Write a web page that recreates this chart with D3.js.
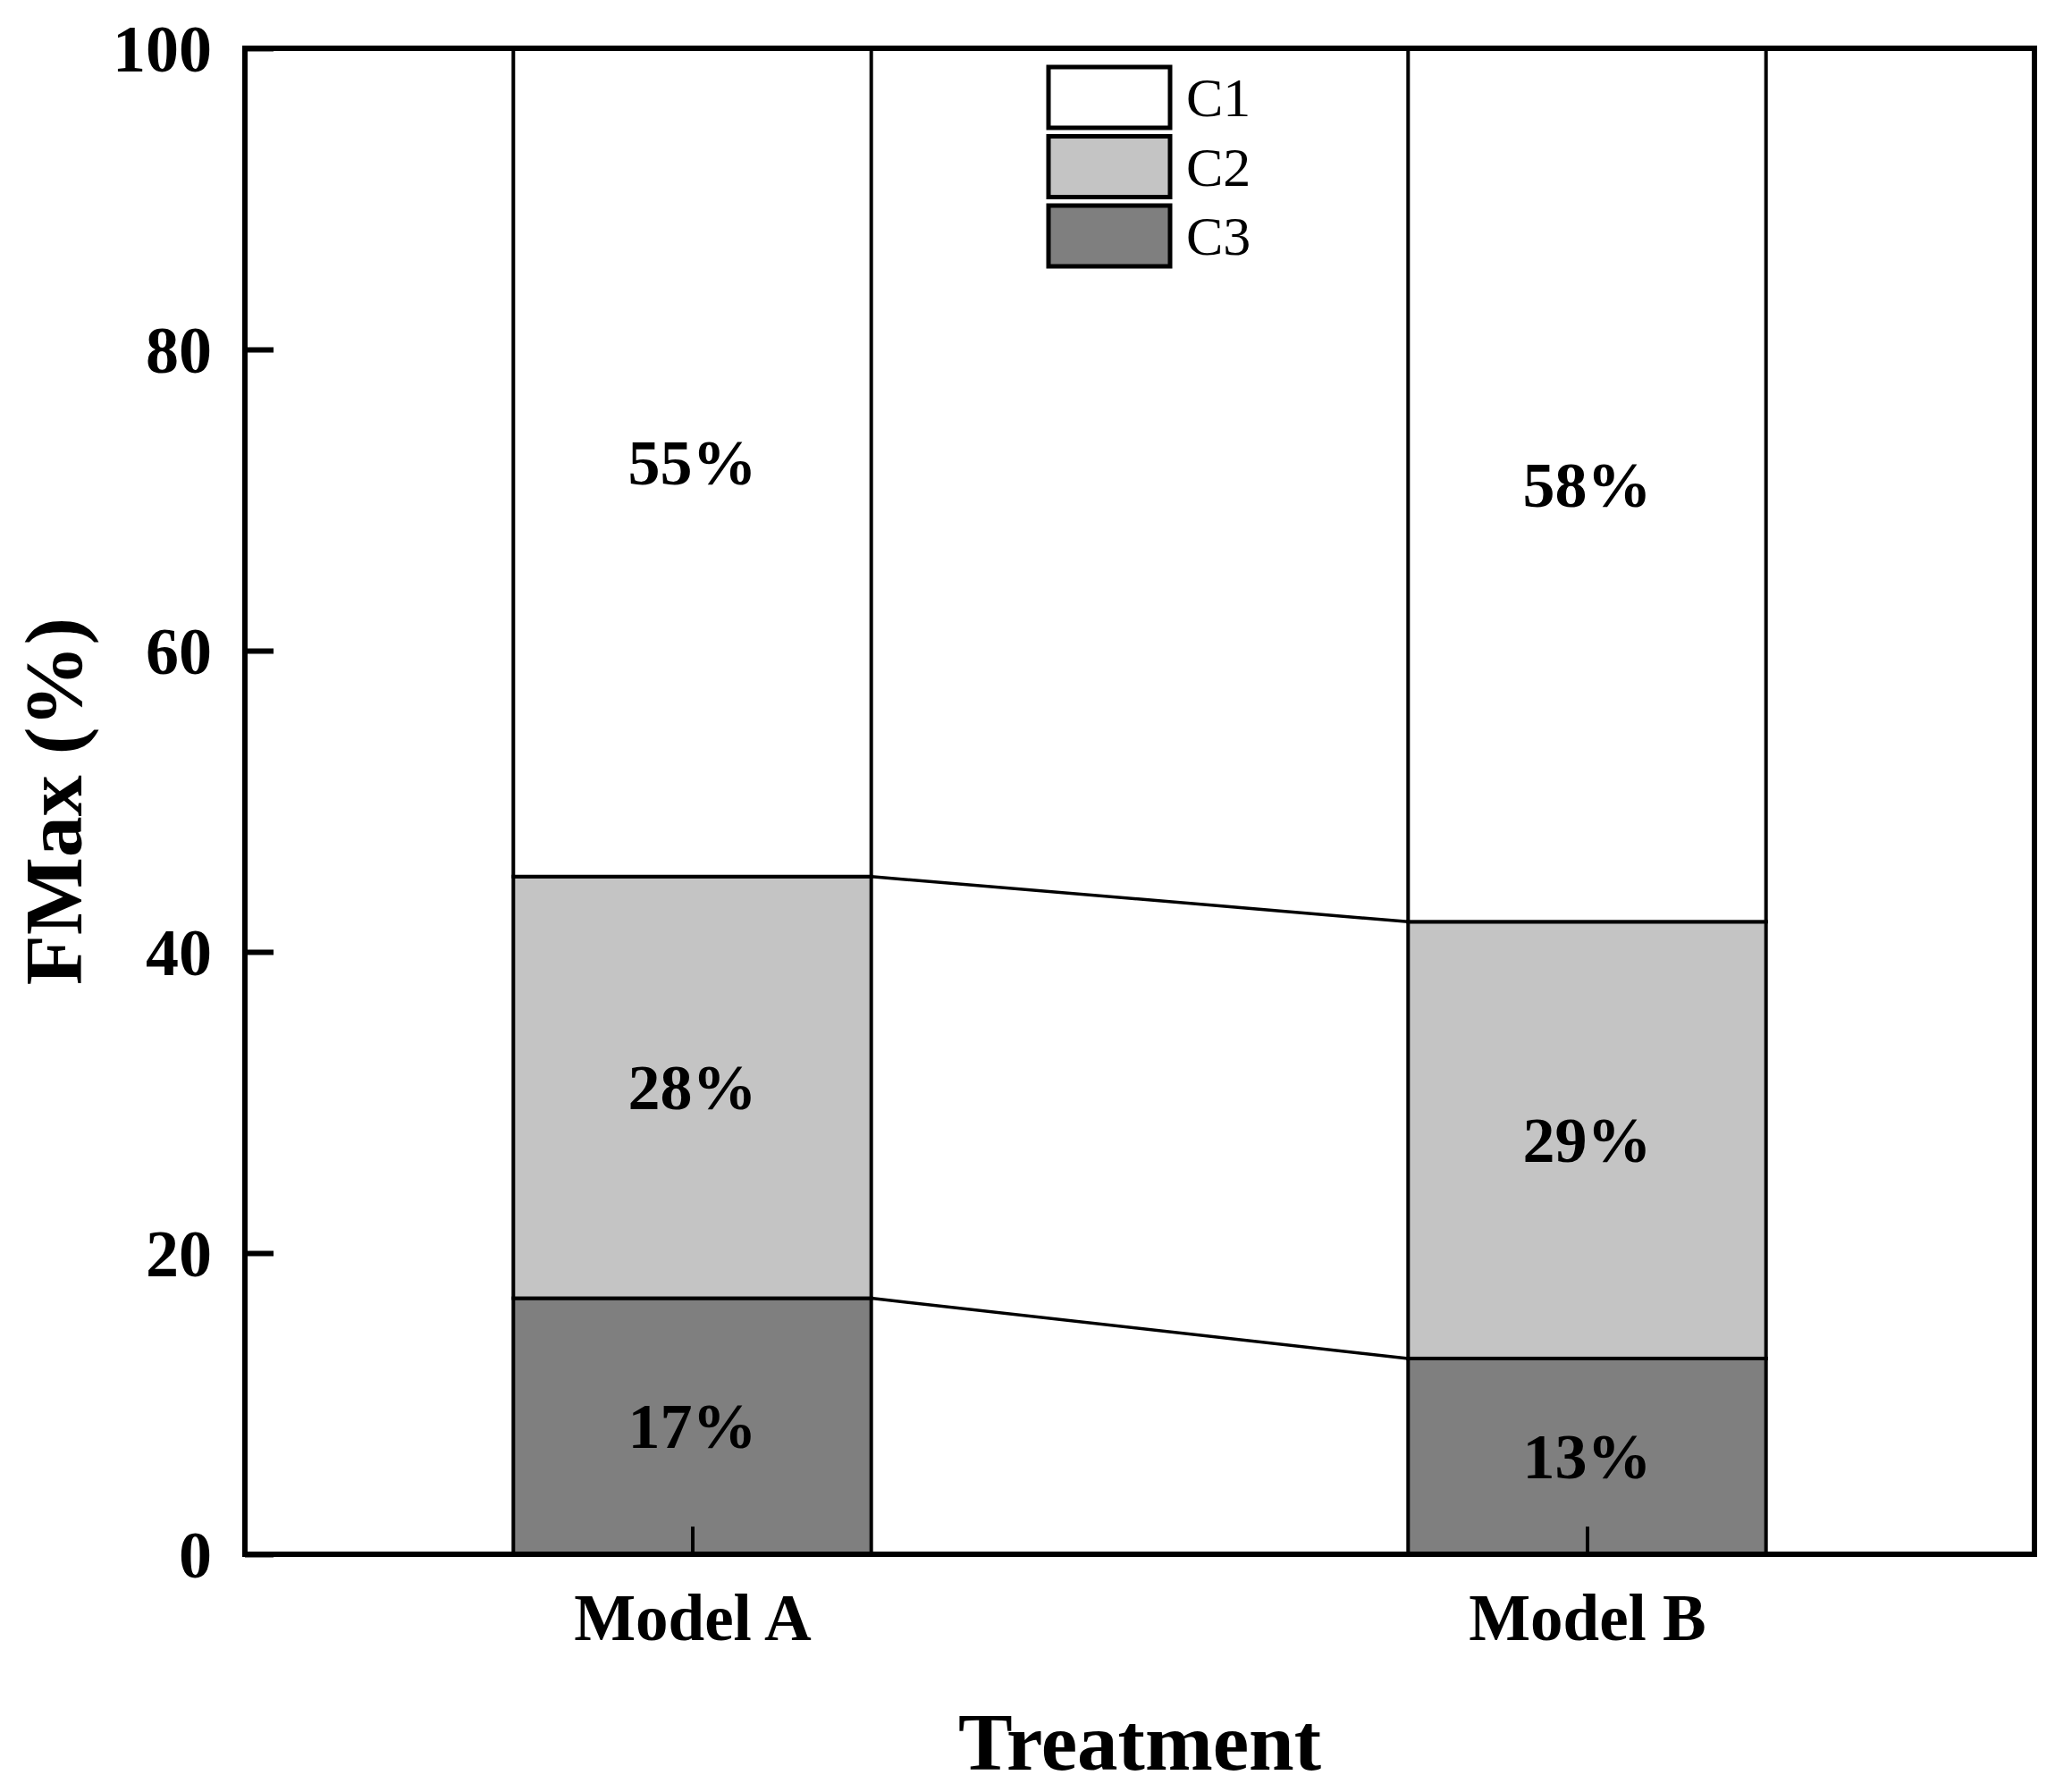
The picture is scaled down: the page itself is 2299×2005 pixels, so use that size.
<!DOCTYPE html>
<html>
<head>
<meta charset="utf-8">
<script src="https://cdn.jsdelivr.net/npm/d3@7"></script>
<style>
  html, body { margin: 0; padding: 0; background: #ffffff; }
  svg { display: block; }
  text { font-family: "Liberation Serif", "Times New Roman", serif; }
</style>
</head>
<body>
<svg id="chart" width="2299" height="2005"></svg>
<script>
// ---- data ----
const categories = ["Model A", "Model B"];
const series = ["C3", "C2", "C1"];           // stacking order, bottom to top
const c3Values = [17, 13];
const c2Values = [28, 29];
const c1Values = [55, 58];
const labels = { C1: ["55%", "58%"], C2: ["28%", "29%"], C3: ["17%", "13%"] };
const yTicks = [0, 20, 40, 60, 80, 100];
const legendOrder = ["C1", "C2", "C3"];
const colors = { C1: "#ffffff", C2: "#c4c4c4", C3: "#7f7f7f" };

const rows = categories.map((c, i) => ({ cat: c, C3: c3Values[i], C2: c2Values[i], C1: c1Values[i] }));

// ---- layout ----
const W = 2299, H = 2005;
const m = { left: 274, right: 23, top: 54, bottom: 266 };
const x0 = m.left, x1 = W - m.right, y0 = H - m.bottom, y1 = m.top;

const svg = d3.select("#chart");
svg.append("rect").attr("width", W).attr("height", H).attr("fill", "#fff");

const x = d3.scalePoint().domain(categories).range([x0, x1]).padding(0.5);
const y = d3.scaleLinear().domain([0, 100]).range([y0, y1]);
const barW = x.step() * 0.4;

const stack = d3.stack().keys(series);
const stacked = stack(rows);

const g = svg.append("g");

// bars
stacked.forEach(layer => {
  g.selectAll(null).data(layer).enter().append("rect")
    .attr("x", d => x(d.data.cat) - barW / 2)
    .attr("y", d => y(d[1]))
    .attr("width", barW)
    .attr("height", d => y(d[0]) - y(d[1]))
    .attr("fill", colors[layer.key])
    .attr("stroke", "#000")
    .attr("stroke-width", 4);
});

// connecting lines between stacks (at the tops of C3 and C2)
["C3", "C2"].forEach(key => {
  const layer = stacked.find(l => l.key === key);
  g.append("line")
    .attr("x1", x(categories[0]) + barW / 2)
    .attr("y1", y(layer[0][1]))
    .attr("x2", x(categories[1]) - barW / 2)
    .attr("y2", y(layer[1][1]))
    .attr("stroke", "#000")
    .attr("stroke-width", 3.5);
});

// value labels
stacked.forEach(layer => {
  g.selectAll(null).data(layer).enter().append("text")
    .attr("x", d => x(d.data.cat))
    .attr("y", d => y((d[0] + d[1]) / 2))
    .attr("dy", "0.34em")
    .attr("text-anchor", "middle")
    .attr("font-size", 72)
    .attr("font-weight", "bold")
    .attr("fill", "#000")
    .text((d, i) => labels[layer.key][i]);
});

// axes (ticks inward)
const yAxis = d3.axisLeft(y).tickValues(yTicks).tickSizeInner(-32).tickSizeOuter(0).tickPadding(0);
const ya = svg.append("g").attr("transform", `translate(${x0},0)`).call(yAxis);
ya.select(".domain").remove();
ya.selectAll(".tick line").attr("stroke", "#000").attr("stroke-width", 6);
ya.selectAll(".tick text")
  .attr("x", -37)
  .attr("dy", "0.34em")
  .attr("font-size", 74)
  .attr("font-weight", "bold")
  .attr("font-family", "Liberation Serif, Times New Roman, serif")
  .attr("fill", "#000");

const xAxis = d3.axisBottom(x).tickSizeInner(-31).tickSizeOuter(0);
const xa = svg.append("g").attr("transform", `translate(0,${y0})`).call(xAxis);
xa.select(".domain").remove();
xa.selectAll(".tick line").attr("stroke", "#000").attr("stroke-width", 4);
xa.selectAll(".tick text")
  .attr("y", 96)
  .attr("dy", 0)
  .attr("font-size", 73)
  .attr("font-weight", "bold")
  .attr("font-family", "Liberation Serif, Times New Roman, serif")
  .attr("fill", "#000");

// frame
svg.append("rect")
  .attr("x", x0).attr("y", y1)
  .attr("width", x1 - x0).attr("height", y0 - y1)
  .attr("fill", "none").attr("stroke", "#000").attr("stroke-width", 6);

// axis titles
svg.append("text")
  .attr("x", (x0 + x1) / 2).attr("y", 1980)
  .attr("text-anchor", "middle")
  .attr("font-size", 91).attr("font-weight", "bold")
  .text("Treatment");

svg.append("text")
  .attr("transform", `translate(91,${(y0 + y1) / 2}) rotate(-90)`)
  .attr("text-anchor", "middle")
  .attr("font-size", 92).attr("font-weight", "bold")
  .text("FMax (%)");

// legend
const lg = svg.append("g").attr("transform", "translate(1173,75)");
legendOrder.forEach((k, i) => {
  const gy = i * 77.5;
  lg.append("rect")
    .attr("x", 0).attr("y", gy)
    .attr("width", 136).attr("height", 68)
    .attr("fill", colors[k]).attr("stroke", "#000").attr("stroke-width", 5);
  lg.append("text")
    .attr("x", 154).attr("y", gy + 34)
    .attr("dy", "0.34em")
    .attr("font-size", 62)
    .text(k);
});
</script>
</body>
</html>
